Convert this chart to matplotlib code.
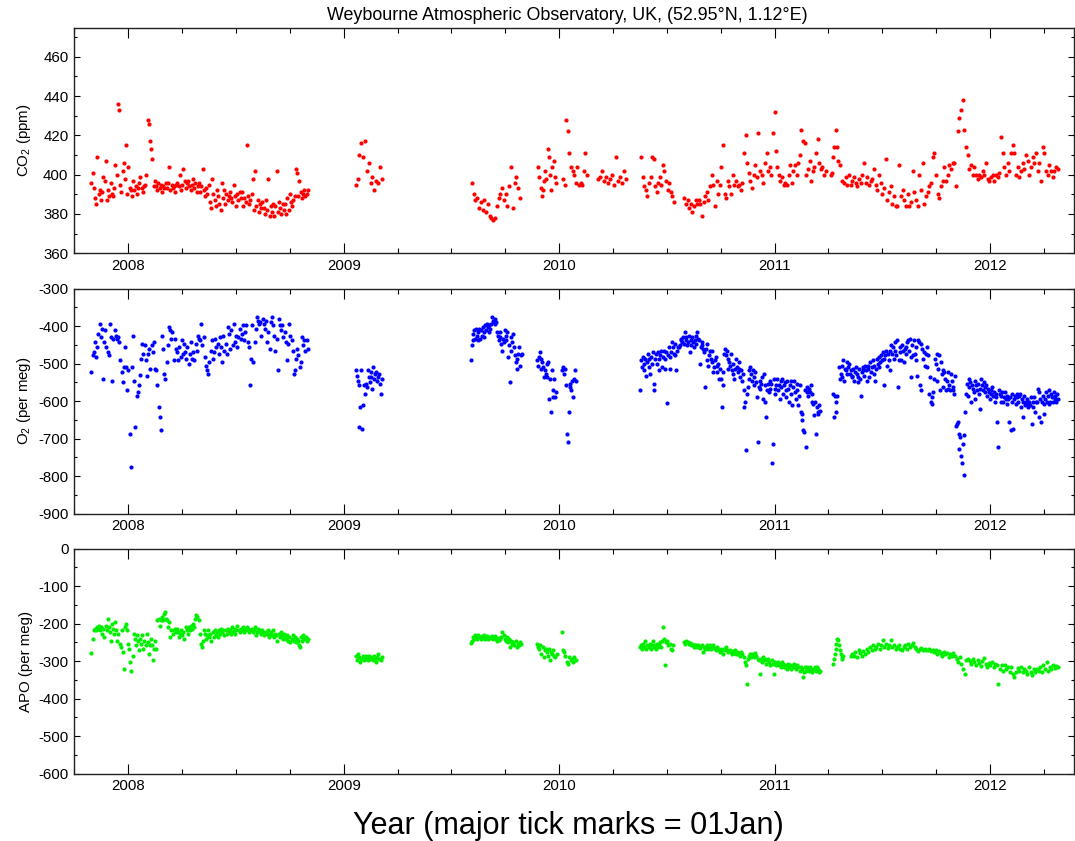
import matplotlib
matplotlib.use("Agg")
import matplotlib.pyplot as plt
import numpy as np
from matplotlib.ticker import MultipleLocator

plt.rcParams['font.family'] = ['Liberation Sans', 'DejaVu Sans']
plt.rcParams['mathtext.fontset'] = 'custom'
plt.rcParams['mathtext.rm'] = 'Liberation Sans'
plt.rcParams['mathtext.it'] = 'Liberation Sans:italic'
plt.rcParams['axes.unicode_minus'] = False

# Daily records, split into the periods with data.
# Each period: (start year, end year) and the values measured in it.

# ---- CO2 (ppm) ----
co2_a_span = (2007.829, 2008.833)
co2_a = [396, 401, 393, 388, 385, 409, 390, 392, 387,
         391, 399, 397, 407, 387, 392, 389, 396, 390,
         389, 393, 405, 400, 436, 433, 395, 391, 402,
         406, 398, 415, 390, 404, 393, 392, 389, 397,
         392, 394, 390, 393, 396, 399, 393, 391, 394,
         395, 400, 428, 426, 417, 413, 408, 394, 397,
         394, 392, 396, 393, 395, 391, 394, 393, 396,
         393, 396, 404, 392, 395, 393, 394, 391, 395,
         396, 394, 400, 392, 395, 403, 397, 393, 396,
         397, 394, 392, 395, 398, 393, 396, 391, 394,
         396, 391, 394, 403, 392, 389, 393, 390, 395,
         386, 383, 398, 390, 387, 384, 392, 389, 385,
         382, 396, 388, 392, 385, 390, 387, 389, 391,
         388, 386, 395, 389, 384, 390, 387, 391, 388,
         391, 384, 388, 386, 415, 389, 385, 387, 390,
         398, 382, 402, 384, 387, 381, 385, 383, 386,
         383, 380, 387, 382, 398, 379, 384, 381, 385,
         379, 384, 402, 381, 386, 383, 380, 385, 382,
         385, 380, 388, 382, 390, 386, 384, 387, 389,
         403, 401, 389, 397, 391, 388, 390, 392, 389,
         390, 392]
co2_b_span = (2009.056, 2009.176)
co2_b = [395, 398, 410, 416, 409, 417, 402, 406, 396, 399, 392, 397, 396, 404, 398]
co2_c1_span = (2009.595, 2009.818)
co2_c1 = [396, 390, 387, 388, 383, 386, 382, 387, 381, 385, 379, 378, 377, 378,
          384, 388, 390, 393, 387, 390, 384, 394, 404, 383, 396, 399, 393, 388]
co2_c2_span = (2009.903, 2009.985)
co2_c2 = [404, 399, 393, 389, 392, 397, 402, 398, 413, 409, 400, 392, 404, 407, 399, 396]
co2_c3_span = (2010.018, 2010.129)
co2_c3 = [398, 395, 428, 422, 411, 404, 402, 400, 396, 404, 395, 396, 395, 402, 411, 400]
co2_c4_span = (2010.180, 2010.311)
co2_c4 = [398, 399, 402, 397, 399, 396, 398, 400, 395, 409, 397, 399, 396, 402, 398]
co2_c5_span = (2010.381, 2010.532)
co2_c5 = [409, 399, 394, 392, 389, 396, 399, 409, 408, 394, 391, 396, 399, 395,
          405, 402, 397, 392, 396, 391, 389, 386]
co2_d1_span = (2010.581, 2011.000)
co2_d1 = [388, 385, 387, 383, 385, 381, 384, 387, 385, 387, 385, 379, 386, 389,
          391, 387, 394, 400, 395, 384, 397, 390, 395, 404, 415, 390, 388, 397,
          394, 390, 400, 395, 397, 394, 395, 392, 396, 411, 420, 406, 401, 397,
          393, 400, 405, 399, 421, 402, 400, 396, 406, 411, 402, 404, 400, 421, 432]
co2_d2_span = (2011.005, 2011.237)
co2_d2 = [412, 404, 400, 397, 399, 395, 396, 395, 400, 405, 396, 402, 405, 400,
          406, 410, 423, 417, 416, 400, 403, 407, 397, 402, 404, 411, 418, 406,
          403, 404, 400, 402]
co2_d3_span = (2011.260, 2011.302)
co2_d3 = [400, 401, 409, 414, 423, 414, 407, 405]
co2_d4_span = (2011.315, 2012.314)
co2_d4 = [397, 396, 399, 395, 400, 395, 397, 399, 396, 394, 398, 396, 400, 406,
          396, 399, 395, 397, 398, 403, 395, 392, 400, 396, 390, 393, 408, 387,
          391, 394, 385, 389, 384, 384, 405, 389, 392, 387, 384, 390, 384, 386,
          402, 391, 387, 384, 400, 392, 406, 385, 389, 391, 394, 396, 409, 411,
          400, 390, 388, 394, 397, 404, 397, 400, 405, 403, 406, 406, 394, 422,
          429, 433, 438, 423, 414, 410, 403, 405, 400, 404, 400, 398, 400, 399,
          402, 400, 406, 398, 397, 399, 400, 397, 400, 399, 401, 419, 411, 404,
          400, 406, 402, 411, 415, 411, 400, 404, 399, 402, 406, 403, 410, 407,
          400, 404, 409, 406, 411, 402, 406, 397, 414, 411, 402, 400, 405, 402,
          399, 402, 404, 403]

# ---- O2 (per meg) ----
o2_a_span = (2007.829, 2008.833)
o2_a = [-523, -478, -469, -443, -482, -456, -420, -394, -429, -407, -540, -443,
        -411, -456, -469, -478, -394, -429, -545, -433, -411, -425, -433, -429,
        -443, -491, -523, -549, -509, -456, -509, -571, -518, -687, -776, -509,
        -425, -545, -669, -585, -576, -558, -529, -487, -447, -473, -451, -491,
        -532, -473, -460, -513, -451, -469, -443, -513, -518, -558, -616, -642,
        -678, -425, -460, -527, -540, -496, -451, -403, -411, -433, -416, -491,
        -433, -460, -469, -491, -456, -482, -438, -473, -447, -469, -487, -456,
        -500, -473, -443, -487, -469, -491, -447, -465, -425, -433, -438, -394,
        -451, -429, -482, -505, -518, -527, -496, -465, -438, -487, -469, -433,
        -456, -447, -473, -429, -456, -496, -425, -465, -447, -473, -403, -420,
        -460, -411, -451, -394, -443, -425, -456, -429, -407, -433, -420, -398,
        -438, -416, -398, -443, -456, -558, -487, -398, -496, -443, -407, -376,
        -385, -394, -389, -425, -380, -394, -407, -385, -443, -416, -460, -389,
        -376, -398, -425, -465, -433, -518, -380, -398, -411, -398, -429, -416,
        -443, -491, -447, -394, -425, -438, -465, -527, -518, -487, -460, -478,
        -509, -496, -429, -451, -438, -465, -438, -460]
o2_b_span = (2009.056, 2009.176)
o2_b = [-518, -532, -545, -558, -669, -616, -518, -674, -611, -558, -580, -553,
        -562, -518, -536, -549, -523, -536, -567, -509, -540, -527, -523, -545,
        -536, -527, -553, -580, -540]
o2_c1_span = (2009.590, 2009.826)
o2_c1 = [-491, -451, -420, -438, -411, -433, -407, -425, -416, -438, -407, -433,
         -411, -425, -403, -429, -416, -398, -411, -394, -403, -416, -398, -407,
         -394, -376, -385, -389, -380, -394, -389, -416, -425, -438, -416, -429,
         -447, -465, -433, -443, -411, -425, -438, -416, -482, -451, -549, -465,
         -429, -443, -420, -456, -478, -496, -513, -487, -473, -456, -505, -478, -473]
o2_c2_span = (2009.898, 2009.985)
o2_c2 = [-491, -505, -482, -469, -513, -487, -496, -509, -536, -518, -527, -500,
         -536, -496, -594, -540, -629, -518, -589, -571, -540, -589, -576]
o2_c3_span = (2010.015, 2010.077)
o2_c3 = [-518, -509, -527, -513, -558, -687, -709, -629, -562, -553, -571, -545,
         -589, -540, -518, -545]
o2_d1_span = (2010.376, 2011.211)
o2_d1 = [-571, -491, -509, -482, -518, -500, -487, -532, -496, -473, -509, -487,
         -527, -482, -500, -469, -571, -553, -487, -473, -500, -469, -487, -518,
         -478, -465, -509, -482, -465, -513, -487, -469, -605, -478, -456, -482,
         -513, -469, -443, -456, -473, -447, -478, -518, -465, -456, -456, -451,
         -438, -433, -443, -429, -447, -416, -438, -429, -451, -443, -425, -469,
         -438, -451, -429, -443, -456, -438, -447, -425, -416, -433, -438, -500,
         -456, -443, -451, -460, -469, -562, -460, -447, -491, -505, -478, -465,
         -487, -465, -496, -523, -509, -491, -482, -505, -523, -500, -540, -513,
         -540, -616, -558, -523, -473, -460, -478, -465, -487, -513, -496, -505,
         -473, -518, -500, -527, -540, -513, -487, -509, -523, -496, -513, -536,
         -518, -545, -527, -571, -616, -602, -731, -580, -562, -518, -540, -509,
         -527, -545, -518, -536, -558, -523, -549, -589, -709, -562, -545, -567,
         -553, -536, -594, -527, -558, -602, -642, -571, -553, -576, -545, -567,
         -553, -764, -713, -540, -567, -580, -558,
         -540, -571, -558, -594, -545, -562, -540, -580, -558, -549, -571, -589,
         -545, -567, -602, -558, -545, -580, -611, -562, -545, -576, -594, -553,
         -571, -611, -585, -558, -629, -634, -651, -678, -682, -571, -722, -576,
         -562, -585, -567, -576, -558, -603, -580, -607, -638, -603, -687, -616,
         -634, -629, -611, -625]
o2_d3_span = (2011.273, 2011.291)
o2_d3 = [-580, -642, -585, -603, -629, -585]
o2_d4_span = (2011.299, 2012.315)
o2_d4 = [-509, -540, -527, -505, -536, -491, -545, -513, -518, -527, -496, -509,
         -500, -527, -518, -532, -536, -513, -545, -523, -509, -527, -549, -536,
         -513, -540, -585, -523, -518, -509, -532, -505, -518, -545, -505, -513,
         -536, -496, -523, -509, -491, -527, -505, -545, -513, -487, -500, -482,
         -509, -496, -478, -491, -469, -487, -558, -478, -465, -505, -473, -491,
         -518, -465, -451, -473, -456, -487, -443, -465, -478, -438, -562, -491,
         -469, -456, -491, -451, -465, -496, -460, -473, -456, -443, -438, -465,
         -433, -482, -536, -451, -478, -438, -473, -456, -491, -532, -438, -443,
         -558, -571, -447, -460, -487, -469, -505, -473, -456, -509, -478, -580,
         -536, -603, -589, -607, -576, -540, -487, -500, -545, -473, -513, -478,
         -571, -496, -527, -518, -562, -523, -540, -571, -545, -523, -567, -558,
         -571, -527, -545, -562, -571, -580, -532, -665, -660, -656, -727, -687,
         -696, -745, -764, -714, -691, -796, -629, -580, -553, -585, -540, -562,
         -549, -602, -558, -567, -576, -545, -594, -558, -571, -553, -580, -567,
         -620, -540, -558, -571, -549, -562, -576, -558, -585, -567, -576, -594,
         -571, -580, -562, -585, -576, -602, -580, -589, -656, -722, -571, -580,
         -602, -585, -576, -603, -589, -576, -594, -585, -607, -594, -656, -589,
         -678, -580, -603, -674, -594, -585, -607, -580, -589, -603, -585, -580,
         -616, -594, -603, -642, -585, -611, -603, -594, -607, -616, -602, -611,
         -589, -660, -616, -603, -589, -629, -603, -602, -567, -642, -576, -594,
         -656, -603, -585, -607, -634, -594, -576, -603, -585, -607, -571, -602,
         -580, -589, -603, -576, -594, -585, -603, -580, -594]

# ---- APO (per meg) ----
apo_a_span = (2007.829, 2008.833)
apo_a = [-279, -240, -218, -214, -218, -209, -214, -205, -218, -209, -227, -214,
         -236, -205, -218, -187, -209, -222, -245, -200, -214, -227, -196, -218,
         -245, -227, -254, -263, -218, -276, -320, -209, -200, -218, -254, -267,
         -303, -325, -285, -227, -240, -258, -231, -245, -271, -240, -254, -231,
         -267, -245, -258, -227, -249, -280, -258, -240, -258, -296, -267, -245,
         -267, -191, -187, -205, -189, -182, -191, -173, -169, -187, -191, -209,
         -196, -236, -218, -227, -218, -214, -222, -214, -222, -236, -227, -218,
         -231, -222, -240, -209, -218, -227, -209, -218, -205, -214, -200, -209,
         -187, -178, -182, -191, -227, -254, -263, -245, -218, -227, -240, -231,
         -218, -236, -227, -245, -222, -236, -218, -231, -222, -236, -218, -227,
         -214, -222, -218, -231, -218, -227, -214, -222, -218, -227, -209, -222,
         -214, -227, -218, -205, -218, -222, -214, -218, -209, -222, -214, -218,
         -209, -214, -222, -218, -214, -222, -218, -209, -231, -222, -214, -218,
         -222, -227, -218, -222, -231, -222, -227, -218, -236, -227, -222, -231,
         -218, -236, -227, -231, -245, -227, -236, -222, -231, -240, -227, -236,
         -240, -231, -245, -236, -249, -240, -231, -245, -236, -249, -240, -245,
         -258, -263, -236, -245, -231, -240, -236, -245, -240]
apo_b_span = (2009.056, 2009.176)
apo_b = [-285, -298, -280, -289, -302, -294, -285, -298, -289, -285, -294, -298,
         -285, -294, -289, -298, -285, -294, -302, -289, -280, -294, -298, -289]
apo_c1_span = (2009.590, 2009.823)
apo_c1 = [-252, -245, -236, -240, -231, -236, -240, -231, -236, -240, -234, -238,
          -231, -240, -236, -234, -240, -236, -238, -234, -240, -236, -234, -240,
          -245, -238, -243, -240, -236, -222, -231, -240, -245, -236, -249, -240,
          -263, -245, -254, -249, -258, -245, -263, -254, -258, -249, -254]
apo_c2_span = (2009.898, 2009.988)
apo_c2 = [-254, -261, -267, -258, -280, -263, -289, -271, -267, -276, -285, -267,
          -298, -276, -280, -271, -285, -289, -280]
apo_c3_span = (2010.011, 2010.077)
apo_c3 = [-222, -271, -276, -285, -302, -307, -289, -298, -294, -302, -289, -298]
apo_d1_span = (2010.376, 2010.527)
apo_d1 = [-263, -258, -267, -254, -263, -245, -267, -258, -263, -254, -267, -258,
          -245, -263, -258, -267, -254, -263, -258, -249, -263, -245, -209, -240,
          -311, -249, -245, -258, -254, -267, -271, -258]
apo_d2_span = (2010.581, 2011.211)
apo_d2 = [-249, -254, -245, -249, -254, -252, -258, -254, -256, -261, -258, -256,
          -263, -258, -261, -265, -258, -276, -263, -267, -263, -258, -267, -263,
          -258, -267, -263, -258, -265, -270, -263, -267, -271, -276, -267, -271,
          -280, -267, -271, -263, -271, -276, -270, -276, -280, -273, -278, -271,
          -282, -276, -280, -278, -285, -276, -280, -289, -302, -311, -360, -294,
          -285, -280, -289, -280, -285, -289, -278, -285, -294, -298, -333, -294,
          -302, -289, -298, -294, -307, -298, -294, -302, -311, -298, -307, -333,
          -302, -311, -307, -302, -311, -307, -316, -302, -307, -316, -311, -320,
          -307, -316, -311, -320, -316, -311, -307, -316, -320, -311, -316, -325,
          -316, -320, -341, -329, -316, -325, -316, -320, -325, -316, -320, -329,
          -320, -316, -325, -316, -320, -329, -325]
apo_d3_span = (2011.271, 2011.319)
apo_d3 = [-307, -294, -280, -267, -254, -240, -243, -258, -271, -280, -289, -294, -285]
apo_d4_span = (2011.353, 2012.315)
apo_d4 = [-285, -280, -287, -276, -289, -271, -278, -285, -272, -280, -267, -276,
          -263, -271, -258, -267, -263, -254, -267, -258, -243, -263, -254, -265,
          -258, -243, -263, -258, -267, -263, -258, -267, -271, -263, -258, -267,
          -254, -263, -258, -252, -263, -267, -272, -267, -265, -270, -267, -271,
          -270, -267, -272, -270, -276, -271, -280, -273, -278, -285, -276, -282,
          -278, -289, -280, -285, -278, -287, -294, -302, -289, -307, -320, -333,
          -298, -294, -300, -307, -294, -302, -311, -298, -305, -314, -300, -291,
          -307, -316, -305, -311, -302, -316, -307, -311, -360, -320, -311, -325,
          -311, -320, -316, -329, -316, -333, -342, -329, -318, -325, -316, -329,
          -320, -325, -333, -316, -329, -338, -320, -329, -320, -325, -316, -329,
          -311, -320, -302, -325, -316, -320, -311, -318, -314, -316]

co2_segments = [(co2_a_span, co2_a), (co2_b_span, co2_b), (co2_c1_span, co2_c1),
                (co2_c2_span, co2_c2), (co2_c3_span, co2_c3), (co2_c4_span, co2_c4),
                (co2_c5_span, co2_c5), (co2_d1_span, co2_d1), (co2_d2_span, co2_d2),
                (co2_d3_span, co2_d3), (co2_d4_span, co2_d4)]
o2_segments = [(o2_a_span, o2_a), (o2_b_span, o2_b), (o2_c1_span, o2_c1),
               (o2_c2_span, o2_c2), (o2_c3_span, o2_c3), (o2_d1_span, o2_d1),
               (o2_d3_span, o2_d3), (o2_d4_span, o2_d4)]
apo_segments = [(apo_a_span, apo_a), (apo_b_span, apo_b), (apo_c1_span, apo_c1),
                (apo_c2_span, apo_c2), (apo_c3_span, apo_c3), (apo_d1_span, apo_d1),
                (apo_d2_span, apo_d2), (apo_d3_span, apo_d3), (apo_d4_span, apo_d4)]


def series(segments):
    t, v = [], []
    for (t0, t1), vals in segments:
        t.append(np.linspace(t0, t1, len(vals)))
        v.append(np.asarray(vals, dtype=float))
    return np.concatenate(t), np.concatenate(v)


panels = [
    (co2_segments, '#ff0000', 'CO$_2$ (ppm)', (360, 474.5), 20, 10),
    (o2_segments, '#0000ff', 'O$_2$ (per meg)', (-900, -300), 100, 50),
    (apo_segments, '#00ee00', 'APO (per meg)', (-600, 0), 100, 50),
]

fig = plt.figure(figsize=(10.75, 8.41), dpi=100)
W, H = 1075.0, 841.0
left, right = 74 / W, 1075 / W
tops = [28.3, 288.7, 548.7]
height = 225.0

for (segs, color, ylabel, ylim, major, minor), top in zip(panels, tops):
    ax = fig.add_axes([left, 1 - (top + height) / H, right - left - 0.0005, height / H])
    t, v = series(segs)
    ax.plot(t, v, 'o', color=color, ms=3.0, mew=0)
    ax.set_xlim(2007.748, 2012.392)
    ax.set_ylim(*ylim)
    ax.xaxis.set_major_locator(MultipleLocator(1))
    ax.xaxis.set_minor_locator(MultipleLocator(0.25))
    ax.xaxis.set_major_formatter(plt.FuncFormatter(lambda x, p: f"{int(round(x))}"))
    ax.yaxis.set_major_locator(MultipleLocator(major))
    ax.yaxis.set_minor_locator(MultipleLocator(minor))
    ax.tick_params(axis='x', which='major', direction='in', length=7.2, width=0.8,
                   top=True, bottom=True, labelsize=10.8, pad=4)
    ax.tick_params(axis='x', which='minor', direction='in', length=3.6, width=0.8,
                   top=True, bottom=True)
    ax.tick_params(axis='y', which='major', direction='in', length=4.3, width=0.8,
                   left=True, right=True, labelsize=10.8, pad=4)
    ax.tick_params(axis='y', which='minor', direction='in', length=2.2, width=0.8,
                   left=True, right=True)
    for s in ax.spines.values():
        s.set_linewidth(1.0)
        s.set_color('#222222')
    ax.set_ylabel(ylabel, fontsize=10.8)
    ax.yaxis.set_label_coords(-0.041, 0.5)

fig.text(567 / W, 1 - 15 / H, 'Weybourne Atmospheric Observatory, UK, (52.95°N, 1.12°E)',
         ha='center', va='center', fontsize=12.9)
fig.text(568 / W, 1 - 826 / H, 'Year (major tick marks = 01Jan)',
         ha='center', va='center', fontsize=22)

fig.savefig('out.png', dpi=100)
